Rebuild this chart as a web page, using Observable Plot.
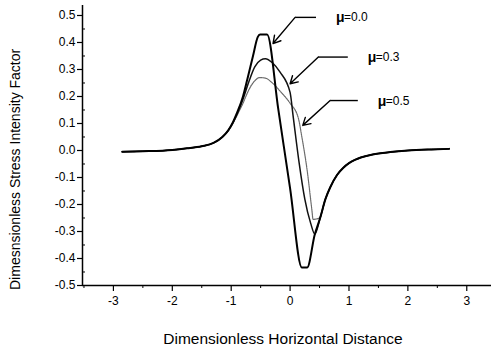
<!DOCTYPE html>
<html>
<head>
<meta charset="utf-8">
<script src="https://cdn.jsdelivr.net/npm/d3@7"></script>
<script src="https://cdn.jsdelivr.net/npm/@observablehq/plot@0.6"></script>
<style>
  html, body { margin: 0; padding: 0; background: #fff; }
  #chart { width: 491px; height: 349px; }
</style>
</head>
<body>
<div id="chart"></div>
<script>
// ---- data ----
const x00 = [-2.85,-2.5,-2.0,-1.75,-1.5,-1.3,-1.15,-1.05,-0.97,-0.9,-0.8,-0.73,-0.63,-0.55,-0.51,-0.39,-0.2,0.0,0.2,0.29,0.42,0.51,0.6,0.68,0.8,0.9,1.0,1.1,1.2,1.4,1.7,2.0,2.4,2.7];
const y00 = [-0.005,-0.003,0.002,0.008,0.016,0.028,0.05,0.075,0.105,0.14,0.2,0.26,0.35,0.42,0.43,0.43,0.152,-0.14,-0.433,-0.433,-0.31,-0.25,-0.18,-0.137,-0.09,-0.065,-0.047,-0.035,-0.026,-0.015,-0.006,0.0,0.004,0.006];

const x03 = [-2.85,-2.5,-2.0,-1.75,-1.5,-1.3,-1.15,-1.05,-0.97,-0.9,-0.8,-0.7,-0.6,-0.5,-0.42,-0.3,-0.17,0.0,0.05,0.15,0.25,0.35,0.42,0.51,0.6,0.68,0.8,0.9,1.0,1.1,1.2,1.4,1.7,2.0,2.4,2.7];
const y03 = [-0.005,-0.003,0.002,0.008,0.016,0.028,0.05,0.074,0.103,0.135,0.19,0.255,0.31,0.335,0.34,0.325,0.29,0.215,0.13,-0.04,-0.18,-0.27,-0.31,-0.25,-0.18,-0.137,-0.09,-0.065,-0.047,-0.035,-0.026,-0.015,-0.006,0.0,0.004,0.006];

const x05 = [-2.85,-2.5,-2.0,-1.75,-1.5,-1.3,-1.15,-1.05,-0.97,-0.9,-0.8,-0.7,-0.6,-0.52,-0.42,-0.3,-0.15,0.0,0.14,0.2,0.29,0.37,0.39,0.5,0.6,0.68,0.8,0.9,1.0,1.1,1.2,1.4,1.7,2.0,2.4,2.7];
const y05 = [-0.005,-0.003,0.002,0.008,0.016,0.028,0.05,0.072,0.1,0.13,0.175,0.225,0.258,0.27,0.268,0.25,0.215,0.175,0.12,0.05,-0.074,-0.22,-0.255,-0.25,-0.18,-0.137,-0.09,-0.065,-0.047,-0.035,-0.026,-0.015,-0.006,0.0,0.004,0.006];

const labelMu = ["μ", "μ", "μ"];
const labelVal = ["=0.0", "=0.3", "=0.5"];
const labelX = [0.78, 1.32, 1.49];
const labelY = [0.493, 0.344, 0.181];
const legStartX = [0.085, 0.48, 0.68];
const legEndX = [0.44, 0.98, 1.15];
const legY = [0.493, 0.346, 0.185];
const tipX = [-0.29, 0.0, 0.215];
const tipY = [0.396, 0.247, 0.093];

const xTicks = [-3, -2, -1, 0, 1, 2, 3];
const xMinor = [-3.5, -2.5, -1.5, -0.5, 0.5, 1.5, 2.5];
const yTicks = [-0.5, -0.4, -0.3, -0.2, -0.1, 0.0, 0.1, 0.2, 0.3, 0.4, 0.5];
const yMinor = [-0.45, -0.35, -0.25, -0.15, -0.05, 0.05, 0.15, 0.25, 0.35, 0.45];

const xTitle = "Dimensionless Horizontal Distance";
const yTitle = "Dimesnsionless Stress Intensity Factor";

// ---- build tables ----
const s00 = x00.map((x, i) => ({x, y: y00[i]}));
const s03 = x03.map((x, i) => ({x, y: y03[i]}));
const s05 = x05.map((x, i) => ({x, y: y05[i]}));
const ann = labelMu.map((m, i) => ({
  mu: m, val: labelVal[i], lx: labelX[i], ly: labelY[i],
  sx: legStartX[i], ex: legEndX[i], sy: legY[i], tx: tipX[i], ty: tipY[i]
}));

const xDom = [-3.525, 3.42];
const yDom = [-0.5, 0.537];
const font = "'Liberation Sans', Arial, Helvetica, sans-serif";

// position of the rotated y title (screen x≈15, y≈160) expressed in scale units
const yTitlePos = [{x: -4.66, y: -0.07, t: yTitle}];

const chart = Plot.plot({
  width: 491,
  height: 349,
  marginLeft: 82,
  marginRight: 0,
  marginTop: 5,
  marginBottom: 64,
  style: {fontFamily: font, fontSize: "12px", color: "#000", background: "#fff"},
  x: {domain: xDom},
  y: {domain: yDom},
  marks: [
    // axis lines
    Plot.ruleX([xDom[0]], {stroke: "#000", strokeWidth: 1.5}),
    Plot.ruleY([yDom[0]], {stroke: "#000", strokeWidth: 1.5}),
    // major / minor ticks
    Plot.axisX({ticks: xTicks, tickSize: 6, tickPadding: 5, tickFormat: d => String(d), label: null, fontSize: 12, strokeWidth: 1.2}),
    Plot.axisX({ticks: xMinor, tickSize: 3, tickFormat: () => "", label: null}),
    Plot.axisY({ticks: yTicks, tickSize: 5, tickPadding: 2, tickFormat: d => d.toFixed(1), label: null, fontSize: 12, strokeWidth: 1.2}),
    Plot.axisY({ticks: yMinor, tickSize: -3, tickFormat: () => "", label: null}),
    // curves
    Plot.line(s05, {x: "x", y: "y", stroke: "#6a6a6a", strokeWidth: 1.2, strokeDasharray: "1.5,0.8", curve: "monotone-x"}),
    Plot.line(s03, {x: "x", y: "y", stroke: "#111", strokeWidth: 1.5, curve: "monotone-x"}),
    Plot.line(s00, {x: "x", y: "y", stroke: "#000", strokeWidth: 2, curve: "monotone-x"}),
    // annotations
    Plot.link(ann, {x1: "sx", y1: "sy", x2: "ex", y2: "sy", stroke: "#000", strokeWidth: 1.4}),
    Plot.arrow(ann, {x1: "sx", y1: "sy", x2: "tx", y2: "ty", stroke: "#000", strokeWidth: 1.4, headLength: 9, bend: 0}),
    Plot.text(ann, {x: "lx", y: "ly", text: "mu", textAnchor: "start", fontWeight: "bold", fontSize: 14}),
    Plot.text(ann, {x: "lx", y: "ly", text: "val", textAnchor: "start", dx: 8, fontSize: 12}),
    // axis titles
    Plot.text([xTitle], {frameAnchor: "bottom", text: d => d, dy: 54, dx: -4, fontSize: 15.5, lineAnchor: "middle"}),
    Plot.text(yTitlePos, {x: "x", y: "y", text: "t", rotate: -90, fontSize: 14, lineAnchor: "middle", clip: false})
  ]
});
document.getElementById("chart").appendChild(chart);
</script>
</body>
</html>
